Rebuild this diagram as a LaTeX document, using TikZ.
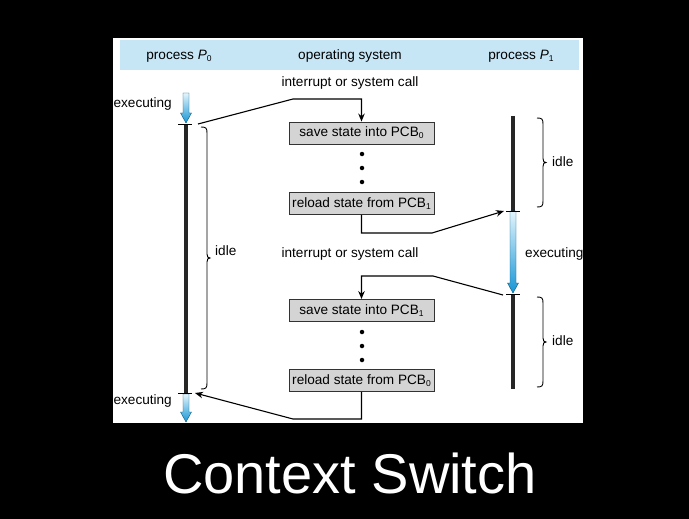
\documentclass[tikz,border=0pt]{standalone}
\usepackage{fontspec}
\setmainfont{Liberation Sans}
\usetikzlibrary{arrows.meta}
\definecolor{hdr}{RGB}{198,230,246}
\definecolor{boxgray}{RGB}{212,212,212}
\definecolor{arrtop}{RGB}{228,245,252}
\definecolor{arrbot}{RGB}{22,150,214}
\newcommand{\subn}[1]{\raisebox{-0.3ex}{\fontsize{8.5}{9}\selectfont #1}}
\newcommand{\gradarrow}[3]{%
  \shadedraw[top color=arrtop,bottom color=arrbot,draw=arrbot!60!black,line width=0.4pt]
    ({#1-3},#2) -- ({#1+3},#2) -- ({#1+3},{#3-10}) -- ({#1+5.5},{#3-10}) -- (#1,#3)
    -- ({#1-5.5},{#3-10}) -- ({#1-3},{#3-10}) -- cycle;}
\newcommand{\bracepath}[3]{%
  \draw[line width=0.9pt] (#1,#2) .. controls ({#1+5},#2) and ({#1+6},{#2+1}) .. ({#1+6},{#2+6})
    -- ({#1+6},{(#2+#3)/2-4}) .. controls ({#1+6},{(#2+#3)/2-1}) and ({#1+7},{(#2+#3)/2}) .. ({#1+9},{(#2+#3)/2})
    .. controls ({#1+7},{(#2+#3)/2}) and ({#1+6},{(#2+#3)/2+1}) .. ({#1+6},{(#2+#3)/2+4})
    -- ({#1+6},{#3-6}) .. controls ({#1+6},{#3-1}) and ({#1+5},#3) .. (#1,#3);}
\begin{document}
\begin{tikzpicture}[x=1pt,y=-1pt,
  lbl/.style={font=\fontsize{13.6}{16}\selectfont, inner sep=0pt},
  osbox/.style={draw=black!80, fill=boxgray, line width=0.9pt, minimum width=145pt,
    minimum height=22pt, inner sep=0pt, font=\fontsize{13.6}{16}\selectfont},
  conn/.style={line width=1.1pt, -{Stealth[length=8pt,width=6.5pt]}},
  timeline/.style={line width=4pt, black!85},
  tickmark/.style={line width=0.9pt},
  osdot/.style={circle, fill=black, inner sep=0pt, minimum size=4.5pt}
]
\useasboundingbox (0,0) rectangle (689,519);
\fill[black] (0,0) rectangle (689,519);
\fill[white] (113,38) rectangle (583,423);
\fill[hdr] (120,40) rectangle (579,70);

% header
\node[lbl] (h0) at (179,56) {process \textit{P}\subn{0}};
\node[lbl] (hos) at (350,56) {operating system};
\node[lbl] (h1) at (521,56) {process \textit{P}\subn{1}};

% interrupt labels
\node[lbl] (int1) at (350,83) {interrupt or system call};
\node[lbl] (int2) at (350,254) {interrupt or system call};

% OS boxes
\node[osbox] (box1) at (361.5,133) {save state into PCB\subn{0}};
\node[osbox] (box2) at (361.5,203.5) {reload state from PCB\subn{1}};
\node[osbox] (box3) at (361.5,310.5) {save state into PCB\subn{1}};
\node[osbox] (box4) at (361.5,380.5) {reload state from PCB\subn{0}};

\node[osdot] (d1) at (362,154) {};
\node[osdot] (d2) at (362,168) {};
\node[osdot] (d3) at (362,182) {};
\node[osdot] (d4) at (362,332) {};
\node[osdot] (d5) at (362,346) {};
\node[osdot] (d6) at (362,360) {};

% process P0
\coordinate (p0t1) at (186,124);
\coordinate (p0t2) at (186,393);
\gradarrow{186}{93}{123}
\gradarrow{186}{394}{422}
\draw[timeline] (p0t1) -- (p0t2);
\draw[tickmark] (178,124) -- (192,124);
\draw[tickmark] (178,393) -- (192,393);
\node[lbl, anchor=east] (e0a) at (172,104) {executing};
\node[lbl, anchor=east] (e0b) at (172,401) {executing};
\bracepath{201}{127}{389}
\node[lbl, anchor=west] (i0) at (215,251) {idle};

% process P1
\coordinate (p1top) at (513,116);
\coordinate (p1t1) at (513,211);
\coordinate (p1t2) at (513,294);
\coordinate (p1bot) at (513,389);
\draw[timeline] (p1top) -- (p1t1);
\gradarrow{513}{211}{293}
\draw[timeline] (p1t2) -- (p1bot);
\draw[tickmark] (506,211) -- (520,211);
\draw[tickmark] (506,294) -- (520,294);
\node[lbl, anchor=west] (e1) at (525,254) {executing};
\bracepath{537}{118}{207}
\node[lbl, anchor=west] (i1a) at (552,162) {idle};
\bracepath{537}{297}{387}
\node[lbl, anchor=west] (i1b) at (552,341) {idle};

% connectors
\coordinate (c1a) at (198,124);
\coordinate (c1b) at (293,99);
\draw[conn] (c1a) -- (c1b) -- (c1b -| box1.north) -- (box1.north);

\coordinate (c2a) at (432,233);
\coordinate (c2e) at (504,211);
\draw[conn] (box2.south) -- (box2.south |- c2a) -- (c2a) -- (c2e);

\coordinate (c3a) at (503,295);
\coordinate (c3b) at (433,276);
\draw[conn] (c3a) -- (c3b) -- (c3b -| box3.north) -- (box3.north);

\coordinate (c4a) at (293,419);
\coordinate (c4e) at (195,393);
\draw[conn] (box4.south) -- (box4.south |- c4a) -- (c4a) -- (c4e);

% title
\node[font=\fontsize{56}{60}\selectfont, text=white, anchor=base, inner sep=0pt] (title) at (350,493) {Context Switch};
\end{tikzpicture}
\end{document}
